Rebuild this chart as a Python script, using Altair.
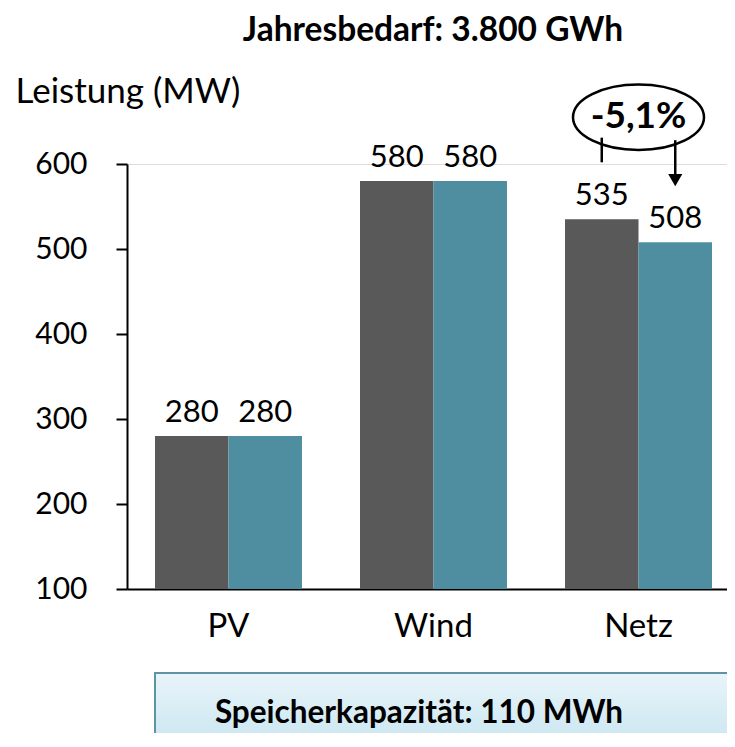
import altair as alt
import pandas as pd

# ---- data ----
categories = ["PV", "Wind", "Netz"]
series = ["Ohne Speicher", "Mit Speicher"]
values_without = [280, 580, 535]
values_with = [280, 580, 508]
bar_colors = ["#595959", "#4f8ea0"]

title_text = "Jahresbedarf: 3.800 GWh"
y_title = "Leistung (MW)"
change_text = "-5,1%"
box_text = "Speicherkapazität: 110 MWh"
y_ticks = [100, 200, 300, 400, 500, 600]

FONT = "Lato"

rows = []
for c, a, b in zip(categories, values_without, values_with):
    rows.append({"cat": c, "series": series[0], "value": a})
    rows.append({"cat": c, "series": series[1], "value": b})
df = pd.DataFrame(rows)

# plot area continues past the right edge of the picture, as in the reference
x_scale = alt.Scale(range=[0, 613], paddingInner=0.283, paddingOuter=0.1366)
x_enc = alt.X("cat:N", sort=categories, title=None, scale=x_scale,
              axis=alt.Axis(ticks=False, tickSize=0, labelFontSize=33, labelFont=FONT,
                            labelColor="black", labelPadding=47,
                            labelBaseline="alphabetic", domainColor="black",
                            domainWidth=2, labelAngle=0))
xo_enc = alt.XOffset("series:N", sort=series,
                     scale=alt.Scale(paddingInner=0, paddingOuter=0))
y_scale = alt.Scale(domain=[100, 600], nice=False, zero=False)
y_enc = alt.Y("value:Q", scale=y_scale, title=y_title,
              axis=alt.Axis(values=y_ticks, grid=False, tickSize=11, tickWidth=2,
                            tickColor="black", domainColor="black", domainWidth=2,
                            labelFontSize=30, labelFont=FONT, labelColor="black",
                            labelPadding=29, titleAngle=0, titleX=-112, titleY=-62,
                            titleAlign="left", titleBaseline="alphabetic",
                            titleFontSize=35, titleFont=FONT, titleFontWeight="normal",
                            titleColor="black"))
color_enc = alt.Color("series:N", sort=series,
                      scale=alt.Scale(domain=series, range=bar_colors), legend=None)

xc = alt.X("cat:N", sort=categories)
xoc = alt.XOffset("series:N", sort=series)

base = alt.Chart(df)
bars = base.mark_bar().encode(x=x_enc, xOffset=xo_enc, y=y_enc,
                              y2=alt.datum(100), color=color_enc)
labels = base.mark_text(baseline="alphabetic", dy=-14, fontSize=31, font=FONT,
                        color="black").encode(
    x=xc, xOffset=xoc, y=alt.Y("value:Q", scale=y_scale), text="value:Q")

# ---- annotation on "Netz" ----
ann = pd.DataFrame([
    {"cat": "Netz", "series": series[0], "y1": 631, "y2": 602},
    {"cat": "Netz", "series": series[1], "y1": 628, "y2": 584},
])
brackets = alt.Chart(ann).mark_rule(color="black", strokeWidth=2.5).encode(
    x=xc, xOffset=xoc, y=alt.Y("y1:Q", scale=y_scale), y2="y2:Q")
arrow = alt.Chart(ann.iloc[[1]]).mark_point(shape="triangle-down", filled=True,
                                            color="black", size=200, opacity=1).encode(
    x=xc, xOffset=xoc, y=alt.Y("yy:Q", scale=y_scale)).transform_calculate(yy="581")

ell = pd.DataFrame([{"cat": "Netz", "y": 655, "label": change_text}])
ellipse = alt.Chart(ell).mark_point(
    shape="M-1,0A1,0.5,0,1,1,1,0A1,0.5,0,1,1,-1,0Z", size=17161, filled=False,
    stroke="black", strokeWidth=2.5, opacity=1).encode(
    x=xc, y=alt.Y("y:Q", scale=y_scale))
ell_text = alt.Chart(ell).mark_text(fontSize=37, fontWeight="bold", font=FONT,
                                    color="black", baseline="middle").encode(
    x=xc, y=alt.Y("y:Q", scale=y_scale), text="label:N")

# ---- title and bottom box ----
txt = pd.DataFrame([{"title": title_text, "box": box_text}])
title = alt.Chart(txt).mark_text(fontSize=33.5, fontWeight="bold", font=FONT,
                                 color="black", baseline="alphabetic").encode(
    x=alt.value(306), y=alt.value(-123), text="title:N")
box = alt.Chart(txt).mark_rect(
    color=alt.Gradient(gradient="linear", x1=0, y1=0, x2=0, y2=1,
                       stops=[alt.GradientStop(color="#e8f4f9", offset=0),
                              alt.GradientStop(color="#b2dbea", offset=1)]),
    stroke="#5e93a4", strokeWidth=2).encode(
    x=alt.value(28), x2=alt.value(660), y=alt.value(509), y2=alt.value(640))
box_label = alt.Chart(txt).mark_text(fontSize=31.5, fontWeight="bold", font=FONT,
                                     color="black", baseline="alphabetic").encode(
    x=alt.value(292), y=alt.value(559), text="box:N")

chart = alt.layer(bars, labels, brackets, arrow, ellipse, ell_text, title, box,
                  box_label).properties(
    width=600, height=425,
    autosize=alt.AutoSizeParams(type="none"),
    padding={"left": 119, "top": 156, "right": 0, "bottom": 144},
).configure_view(stroke=None).configure(font=FONT)

chart.save("out.html", embed_options={"renderer": "svg", "actions": False})
